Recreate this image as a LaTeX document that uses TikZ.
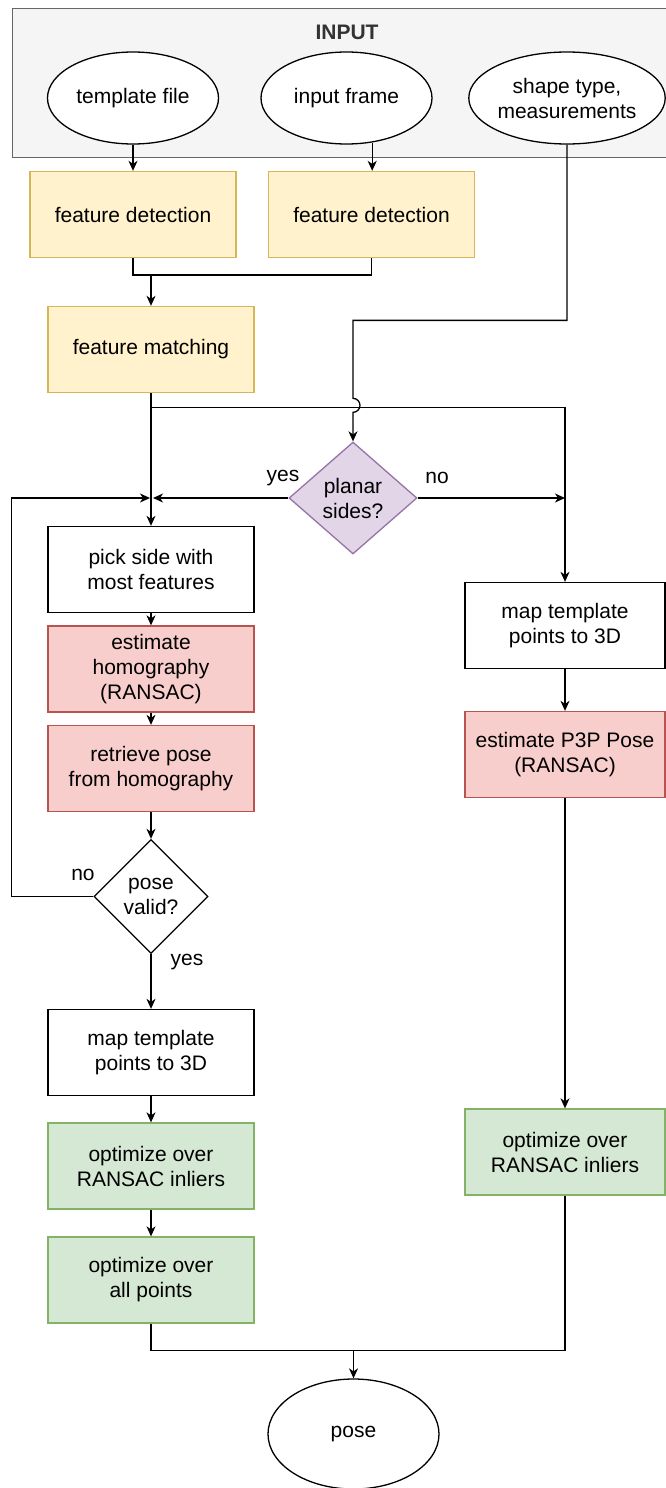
\documentclass[tikz,border=0pt]{standalone}
\usepackage{fontspec}
\setmainfont{Liberation Sans}
\usetikzlibrary{shapes.geometric,arrows.meta,calc}
\definecolor{inpfill}{HTML}{F5F5F5}
\definecolor{inpline}{HTML}{666666}
\definecolor{inptext}{HTML}{333333}
\definecolor{ylwfill}{HTML}{FFF2CC}
\definecolor{ylwline}{HTML}{D6B656}
\definecolor{redfill}{HTML}{F8CECC}
\definecolor{redline}{HTML}{B85450}
\definecolor{grnfill}{HTML}{D5E8D4}
\definecolor{grnline}{HTML}{82B366}
\definecolor{prpfill}{HTML}{E1D5E7}
\definecolor{prpline}{HTML}{9673A6}

\begin{document}
\begin{tikzpicture}[
  x=1pt, y=1pt,
  font=\fontsize{21}{25}\selectfont,
  box/.style={rectangle, draw=black, fill=white, line width=1.3pt, minimum width=206pt, minimum height=86pt, align=center, inner sep=0pt},
  oval/.style={ellipse, draw=black, fill=white, line width=1.3pt, minimum width=171pt, minimum height=92pt, align=center, inner sep=0pt},
  decision/.style={diamond, draw=black, fill=white, line width=1.3pt, align=center, inner sep=0pt},
  arrow/.style={-{Stealth[length=10pt,width=9pt,inset=3pt]}, line width=1.3pt},
  line/.style={line width=1.3pt}
]
\useasboundingbox (0,0) rectangle (666,-1488);

% Input container
\node[rectangle, draw=inpline, fill=inpfill, line width=1.3pt, minimum width=690pt, minimum height=149pt, anchor=north west, inner sep=0pt] (input) at (12,-8) {};
\node[font=\fontsize{21}{25}\selectfont\bfseries, text=inptext] (inlabel) at (347,-32) {INPUT};
\node[oval] (tfile) at (133,-98) {template file};
\node[oval] (iframe) at (346.5,-98) {input frame};
\node[oval] (shape) at (567,-98) {shape type,\\measurements};

% Features
\node[box, fill=ylwfill, draw=ylwline] (fd1) at (133,-214.5) {feature detection};
\node[box, fill=ylwfill, draw=ylwline] (fd2) at (371.5,-214.5) {feature detection};
\node[box, fill=ylwfill, draw=ylwline] (match) at (151,-349.5) {feature matching};

\node[decision, fill=prpfill, draw=prpline, minimum width=128pt, minimum height=112pt] (planar) at (353,-498) {planar\\sides?};

% Planar branch
\node[box] (pick) at (151,-569.5) {pick side with\\most features};
\node[box, fill=redfill, draw=redline] (homog) at (151,-669) {estimate\\homography\\(RANSAC)};
\node[box, fill=redfill, draw=redline] (retr) at (151,-768.5) {retrieve pose\\from homography};
\node[decision, minimum width=114pt, minimum height=114pt] (valid) at (151,-896.5) {pose\\valid?};
\node[box] (mapl) at (151,-1052.5) {map template\\points to 3D};
\node[box, fill=grnfill, draw=grnline] (opti) at (151,-1166) {optimize over\\RANSAC inliers};
\node[box, fill=grnfill, draw=grnline] (opta) at (151,-1280) {optimize over\\all points};

% Non-planar branch
\node[box, minimum width=200pt] (mapr) at (565,-625.5) {map template\\points to 3D};
\node[box, minimum width=200pt, fill=redfill, draw=redline] (p3p) at (565,-754.5) {estimate P3P Pose\\(RANSAC)};
\node[box, minimum width=200pt, fill=grnfill, draw=grnline] (optr) at (565,-1152) {optimize over\\RANSAC inliers};

\node[oval, minimum height=110pt] (pose) at (353.5,-1434) {pose};

% Labels
\node (yes1) at (283,-478) {yes};
\node (no1) at (437,-478) {no};
\node (no2) at (83,-875) {no};
\node (yes2) at (187,-962) {yes};

% Join points
\coordinate (merge) at ($(match.north)+(0,31)$);
\coordinate (split) at ($(match.south)+(0,-14)$);
\coordinate (ljoin) at (pick.north |- planar.west);
\coordinate (sturn) at ($(planar.north)+(0,121)$);
\coordinate (jtop) at ($(planar.north)+(0,43)$);
\coordinate (bjoin) at ($(pose.north)+(0,28)$);

% Arrows
\draw[arrow] (tfile) -- (fd1);
\draw[arrow] (iframe.-60) -- (iframe.-60 |- fd2.north);
\draw[line] (fd1.south) |- (merge) -| (fd2.south);
\draw[arrow] (merge) -- (match);
\draw[arrow] (match) -- (pick);
\draw[arrow] (split) -| (mapr.north);
\draw[arrow] (shape.south) |- (sturn) -- (jtop) arc[start angle=90, end angle=-90, radius=7] -- (planar.north);
\draw[arrow, shorten >=2pt] (planar.west) -- (ljoin);
\draw[arrow] (planar.east) -- (planar.east -| mapr.north);
\draw[arrow] (pick) -- (homog);
\draw[arrow] (homog) -- (retr);
\draw[arrow] (retr) -- (valid);
\draw[arrow, shorten >=1pt] (valid.west) -- ++(-82,0) |- (ljoin);
\draw[arrow] (valid) -- (mapl);
\draw[arrow] (mapl) -- (opti);
\draw[arrow] (opti) -- (opta);
\draw[arrow] (mapr) -- (p3p);
\draw[arrow] (p3p) -- (optr);
\draw[line] (opta.south) |- (bjoin) -| (optr.south);
\draw[arrow] (bjoin) -- (pose);

\end{tikzpicture}
\end{document}
